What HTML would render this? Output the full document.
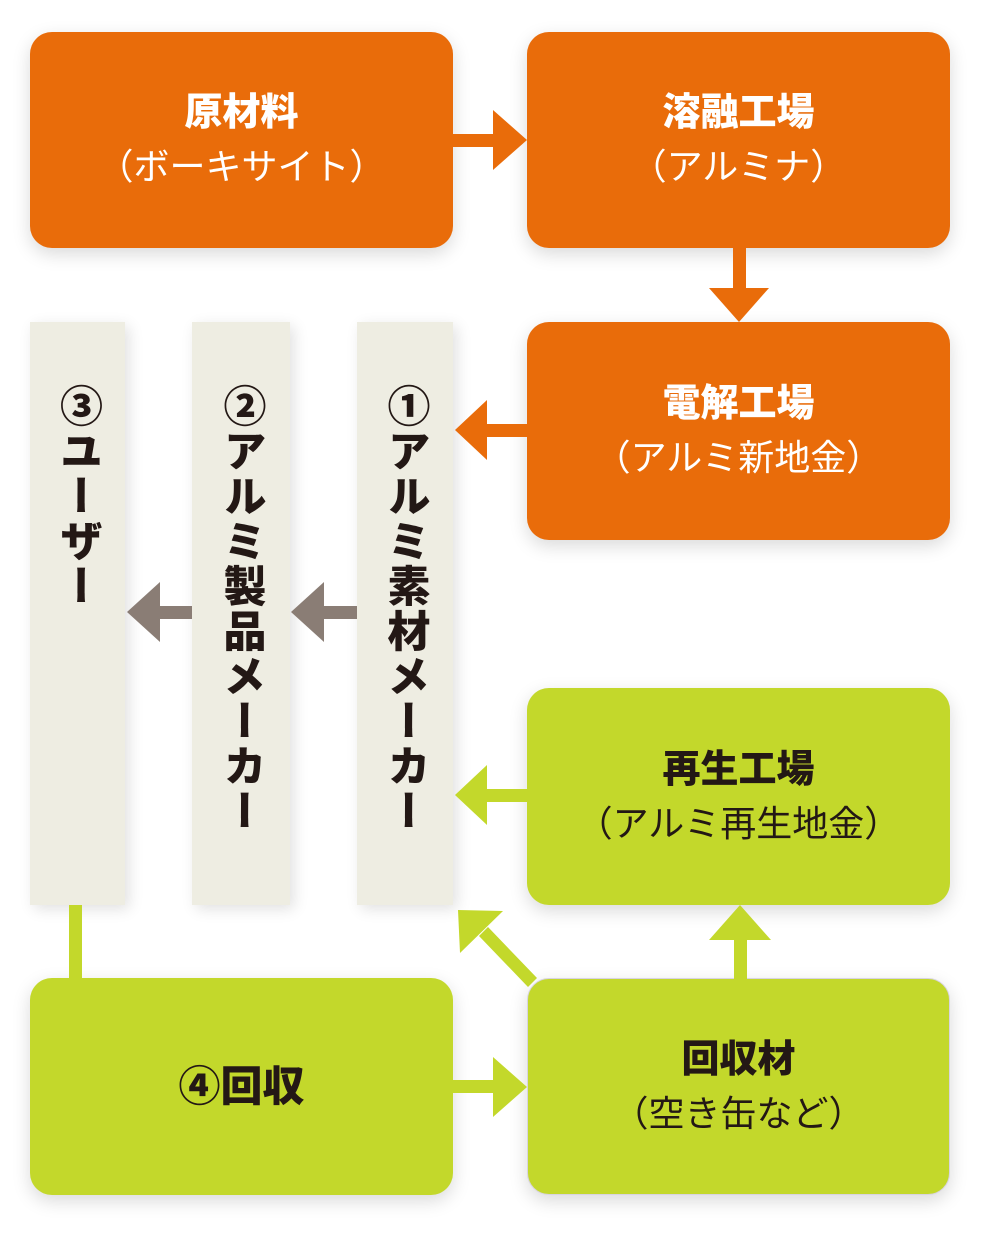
<!DOCTYPE html>
<html><head><meta charset="utf-8"><style>
body{margin:0;width:1000px;height:1245px;background:#fff;position:relative;overflow:hidden;font-family:"Liberation Sans","Noto Sans CJK JP",sans-serif}
.b{position:absolute;border-radius:22px;display:flex;flex-direction:column;align-items:center;justify-content:center;box-shadow:0 6px 18px rgba(0,0,0,.15)}
.o{background:#E96C0A;color:#fff}
.g{background:#C3D82B;color:#231815}
.t{font-weight:900;font-size:38px;line-height:52px}
.s{font-size:36px;line-height:52px;margin-top:2px}
.c{position:absolute;top:322px;height:583px;background:#EEEDE2;box-shadow:4px 4px 14px rgba(0,0,0,.12);display:flex;justify-content:center}
.v{writing-mode:vertical-rl;font-weight:900;font-size:43px;color:#231815;margin-top:62px;letter-spacing:2px;line-height:96px}
</style></head><body>
<div class="b o" style="left:30px;top:32px;width:423px;height:216px"><div class="t">原材料</div><div class="s">（ボーキサイト）</div></div>
<div class="b o" style="left:527px;top:32px;width:423px;height:216px"><div class="t">溶融工場</div><div class="s">（アルミナ）</div></div>
<div class="b o" style="left:527px;top:322px;width:423px;height:218px"><div class="t">電解工場</div><div class="s">（アルミ新地金）</div></div>
<div class="b g" style="left:527px;top:688px;width:423px;height:217px"><div class="t">再生工場</div><div class="s">（アルミ再生地金）</div></div>
<div class="b g" style="left:30px;top:978px;width:423px;height:217px"><div class="t" style="font-size:42px">④回収</div></div>
<div class="b g" style="left:527px;top:978px;width:423px;height:217px;border:1px solid #d8d4e0;box-sizing:border-box"><div class="t">回収材</div><div class="s">（空き缶など）</div></div>
<div class="c" style="left:30px;width:95px"><div class="v">③ユーザー</div></div>
<div class="c" style="left:192px;width:98px"><div class="v">②アルミ製品メーカー</div></div>
<div class="c" style="left:357px;width:96px"><div class="v">①アルミ素材メーカー</div></div>
<svg width="1000" height="1245" style="position:absolute;left:0;top:0">
<g fill="#E96C0A">
<rect x="453" y="134" width="42" height="13"/><polygon points="493,110 527,140 493,170"/>
<rect x="733" y="248" width="13" height="42"/><polygon points="709,288 739,322 769,288"/>
<rect x="487" y="424" width="42" height="13"/><polygon points="487,400 455,430 487,460"/>
</g>
<g fill="#8A7D75">
<rect x="158" y="606" width="34" height="13"/><polygon points="160,582 127,612 160,642"/>
<rect x="322" y="606" width="35" height="13"/><polygon points="324,582 291,612 324,642"/>
</g>
<g fill="#C3D82B">
<rect x="487" y="789" width="42" height="13"/><polygon points="487,765 455,795 487,825"/>
<rect x="453" y="1080" width="42" height="13"/><polygon points="493,1057 527,1087 493,1117"/>
<rect x="734" y="938" width="13" height="42"/><polygon points="709,940 740,905 771,940"/>
<rect x="69" y="905" width="13" height="75"/>
<polygon points="479,936 488,927 537,978 528,987"/><polygon points="458,910 503,911 460,953"/>
</g>
</svg>
</body></html>
